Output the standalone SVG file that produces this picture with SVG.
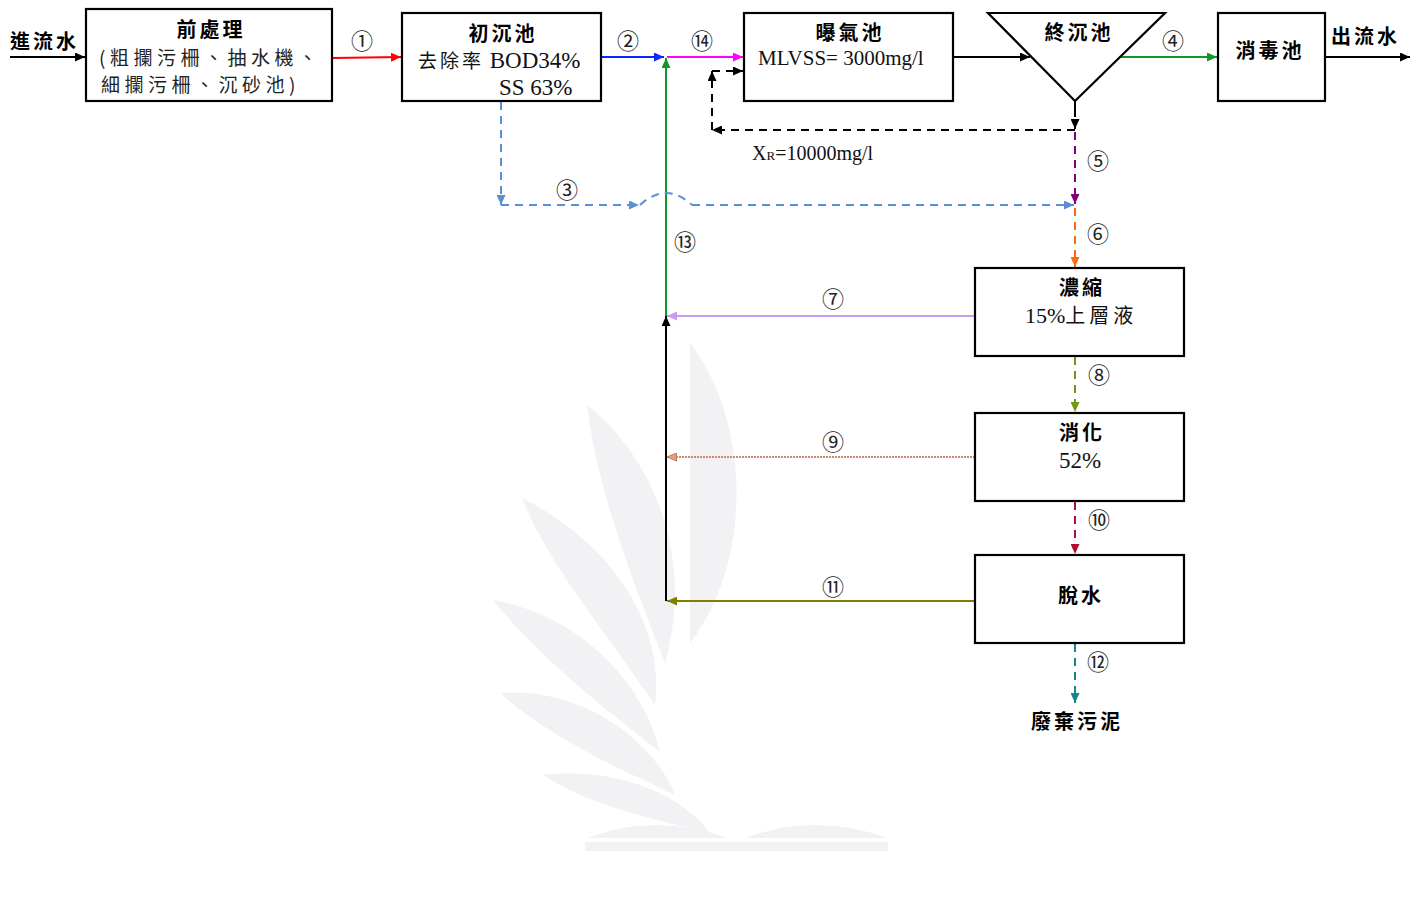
<svg xmlns="http://www.w3.org/2000/svg" width="1426" height="913" viewBox="0 0 1426 913">
<style>
.box{fill:#fff;stroke:#000;stroke-width:2.2}
.cj{font-family:"Noto Sans CJK TC","Noto Sans CJK SC",sans-serif;font-weight:bold;font-size:20px;letter-spacing:3px;fill:#000}
.cn{font-family:"Noto Sans CJK TC","Noto Sans CJK SC",sans-serif;font-size:19px;letter-spacing:4.5px;fill:#222}
.tm{font-family:"Liberation Serif","Noto Sans CJK TC",serif;font-size:23px;fill:#111}
.num{font-family:"Noto Sans CJK TC","DejaVu Sans",sans-serif;font-size:22px;fill:#222;text-anchor:middle}
.ln{fill:none;stroke-width:2}
.d{stroke-dasharray:8 6}
.wm{fill:#f2f2f5}
</style>
<defs>
<marker id="aK" markerUnits="userSpaceOnUse" markerWidth="11" markerHeight="9" refX="10" refY="4.5" orient="auto"><path d="M0,0 L10,4.5 L0,9 Z" fill="#000"/></marker>
<marker id="aR" markerUnits="userSpaceOnUse" markerWidth="11" markerHeight="9" refX="10" refY="4.5" orient="auto"><path d="M0,0 L10,4.5 L0,9 Z" fill="#ff0000"/></marker>
<marker id="aB" markerUnits="userSpaceOnUse" markerWidth="11" markerHeight="9" refX="10" refY="4.5" orient="auto"><path d="M0,0 L10,4.5 L0,9 Z" fill="#0a28ff"/></marker>
<marker id="aM" markerUnits="userSpaceOnUse" markerWidth="11" markerHeight="9" refX="10" refY="4.5" orient="auto"><path d="M0,0 L10,4.5 L0,9 Z" fill="#ff00ff"/></marker>
<marker id="aG" markerUnits="userSpaceOnUse" markerWidth="11" markerHeight="9" refX="10" refY="4.5" orient="auto"><path d="M0,0 L10,4.5 L0,9 Z" fill="#12962a"/></marker>
<marker id="aLB" markerUnits="userSpaceOnUse" markerWidth="11" markerHeight="9" refX="10" refY="4.5" orient="auto"><path d="M0,0 L10,4.5 L0,9 Z" fill="#5a8fd8"/></marker>
<marker id="aP" markerUnits="userSpaceOnUse" markerWidth="11" markerHeight="9" refX="10" refY="4.5" orient="auto"><path d="M0,0 L10,4.5 L0,9 Z" fill="#800080"/></marker>
<marker id="aO" markerUnits="userSpaceOnUse" markerWidth="11" markerHeight="9" refX="10" refY="4.5" orient="auto"><path d="M0,0 L10,4.5 L0,9 Z" fill="#ff6a10"/></marker>
<marker id="aL" markerUnits="userSpaceOnUse" markerWidth="11" markerHeight="9" refX="10" refY="4.5" orient="auto"><path d="M0,0 L10,4.5 L0,9 Z" fill="#c49cf2"/></marker>
<marker id="aYG" markerUnits="userSpaceOnUse" markerWidth="11" markerHeight="9" refX="10" refY="4.5" orient="auto"><path d="M0,0 L10,4.5 L0,9 Z" fill="#6b9a12"/></marker>
<marker id="aBr" markerUnits="userSpaceOnUse" markerWidth="11" markerHeight="9" refX="10" refY="4.5" orient="auto"><path d="M0.5,0.5 L10,4.5 L0.5,8.5 Z" fill="#e0a080" stroke="#c8785a" stroke-width="1"/></marker>
<marker id="aC" markerUnits="userSpaceOnUse" markerWidth="11" markerHeight="9" refX="10" refY="4.5" orient="auto"><path d="M0,0 L10,4.5 L0,9 Z" fill="#b0102e"/></marker>
<marker id="aOl" markerUnits="userSpaceOnUse" markerWidth="11" markerHeight="9" refX="10" refY="4.5" orient="auto"><path d="M0,0 L10,4.5 L0,9 Z" fill="#808000"/></marker>
<marker id="aT" markerUnits="userSpaceOnUse" markerWidth="11" markerHeight="9" refX="10" refY="4.5" orient="auto"><path d="M0,0 L10,4.5 L0,9 Z" fill="#12888a"/></marker>
</defs>
<rect width="1426" height="913" fill="#fff"/>
<g id="watermark">
<path class="wm" d="M690,343 C750,420 754,560 690,643 Z"/>
<path class="wm" d="M587,405 C656,460 694,560 665,663 C624,560 596,480 587,405 Z"/>
<path class="wm" d="M522,498 C606,540 666,620 655,705 C598,622 546,560 522,498 Z"/>
<path class="wm" d="M493,600 C586,616 646,690 660,752 C598,704 536,654 493,600 Z"/>
<path class="wm" d="M500,693 C586,686 656,745 675,795 C608,764 546,734 500,693 Z"/>
<path class="wm" d="M543,775 C626,766 686,800 710,833 C648,818 586,804 543,775 Z"/>
<path class="wm" d="M587,838 Q655,812 728,838 Z"/>
<path class="wm" d="M745,838 Q815,812 888,838 Z"/>
<rect class="wm" x="585" y="842" width="303" height="9"/>
</g>
<g id="connectors">
<line class="ln" x1="10" y1="57" x2="85" y2="57" stroke="#000" marker-end="url(#aK)"/>
<line class="ln" x1="333" y1="58" x2="401" y2="57" stroke="#ff0000" marker-end="url(#aR)"/>
<line class="ln" x1="602" y1="57" x2="664" y2="57" stroke="#0a28ff" marker-end="url(#aB)"/>
<line class="ln" x1="667" y1="57" x2="743" y2="57" stroke="#ff00ff" marker-end="url(#aM)"/>
<line class="ln" x1="666" y1="316" x2="666" y2="58" stroke="#12962a" marker-end="url(#aG)"/>
<line class="ln" x1="954" y1="57" x2="1030" y2="57" stroke="#000" marker-end="url(#aK)"/>
<line class="ln" x1="1121" y1="57" x2="1217" y2="57" stroke="#12962a" marker-end="url(#aG)"/>
<line class="ln" x1="1326" y1="57" x2="1410" y2="57" stroke="#000" marker-end="url(#aK)"/>
<line class="ln" x1="1075" y1="101" x2="1075" y2="109" stroke="#000"/>
<line class="ln d" x1="1075" y1="109" x2="1075" y2="129" stroke="#000" stroke-width="2.4" marker-end="url(#aK)"/>
<line class="ln d" x1="1075" y1="130" x2="712" y2="130" stroke="#000" stroke-width="2.4" marker-end="url(#aK)"/>
<line class="ln d" x1="712" y1="130" x2="712" y2="71" stroke="#000" stroke-width="2.4" marker-end="url(#aK)"/>
<line class="ln d" x1="712" y1="71" x2="743" y2="71" stroke="#000" stroke-width="2.4" marker-end="url(#aK)"/>
<line class="ln d" x1="1075" y1="132" x2="1075" y2="204" stroke="#800080" stroke-width="2.4" marker-end="url(#aP)"/>
<line class="ln d" x1="501" y1="102" x2="501" y2="205" stroke="#5a8fd8" marker-end="url(#aLB)"/>
<line class="ln d" x1="501" y1="205" x2="639" y2="205" stroke="#5a8fd8" marker-end="url(#aLB)"/>
<path class="ln d" d="M640,205 Q666,181 692,205" stroke="#5a8fd8"/>
<line class="ln d" x1="692" y1="205" x2="1074" y2="205" stroke="#5a8fd8" marker-end="url(#aLB)"/>
<line class="ln d" x1="1075" y1="208" x2="1075" y2="267" stroke="#ff6a10" stroke-width="2.4" marker-end="url(#aO)"/>
<line class="ln" x1="975" y1="316" x2="667" y2="316" stroke="#c49cf2" marker-end="url(#aL)"/>
<line class="ln" x1="666" y1="601" x2="666" y2="316" stroke="#000" marker-end="url(#aK)"/>
<line class="ln d" x1="1075" y1="357" x2="1075" y2="412" stroke="#6b9a12" stroke-width="2.4" marker-end="url(#aYG)"/>
<line class="ln" x1="975" y1="457" x2="667" y2="457" stroke="#d08a68" stroke-width="2.4" stroke-dasharray="2 1" marker-end="url(#aBr)"/>
<line class="ln d" x1="1075" y1="502" x2="1075" y2="554" stroke="#b0102e" stroke-width="2.4" marker-end="url(#aC)"/>
<line class="ln" x1="975" y1="601" x2="667" y2="601" stroke="#808000" stroke-width="2.4" marker-end="url(#aOl)"/>
<line class="ln d" x1="1075" y1="644" x2="1075" y2="703" stroke="#12888a" stroke-width="2.4" marker-end="url(#aT)"/>
</g>
<g id="labels">
<text class="num" x="362" y="49">①</text>
<text class="num" x="628" y="49">②</text>
<text class="num" x="567" y="198">③</text>
<text class="num" x="1173" y="49">④</text>
<text class="num" x="1098" y="169">⑤</text>
<text class="num" x="1098" y="242">⑥</text>
<text class="num" x="833" y="307">⑦</text>
<text class="num" x="1099" y="383">⑧</text>
<text class="num" x="833" y="450">⑨</text>
<text class="num" x="1099" y="528">⑩</text>
<text class="num" x="833" y="595">⑪</text>
<text class="num" x="1098" y="670">⑫</text>
<text class="num" x="685" y="250">⑬</text>
<text class="num" x="702" y="49">⑭</text>
<text class="tm" x="752" y="160" style="font-size:20px">X<tspan style="font-size:13px">R</tspan>=10000mg/l</text>
</g>
<g id="inflow"><text class="cj" x="10" y="49">進流水</text></g>
<g id="outflow"><text class="cj" x="1331" y="44">出流水</text></g>
<g id="pretreatment">
<rect class="box" x="86" y="9" width="246" height="92"/>
<text class="cj" x="211" y="37" text-anchor="middle">前處理</text>
<text class="cn" x="99" y="65">(粗攔污柵、抽水機、</text>
<text class="cn" x="101" y="92">細攔污柵、沉砂池)</text>
</g>
<g id="primary">
<rect class="box" x="402" y="13" width="199" height="88"/>
<text class="cj" x="503" y="41" text-anchor="middle">初沉池</text>
<text class="tm" x="418" y="68"><tspan style="font-family:'Noto Sans CJK TC',sans-serif;font-size:19px;letter-spacing:3px">去除率</tspan> BOD34%</text>
<text class="tm" x="499" y="95">SS 63%</text>
</g>
<g id="aeration">
<rect class="box" x="744" y="13" width="209" height="88"/>
<text class="cj" x="850" y="40" text-anchor="middle">曝氣池</text>
<text class="tm" x="758" y="65" style="font-size:21px">MLVSS= 3000mg/l</text>
</g>
<g id="secondary">
<polygon points="988,13 1165,13 1075,101" fill="#fff" stroke="#000" stroke-width="2.2"/>
<text class="cj" x="1079" y="40" text-anchor="middle">終沉池</text>
</g>
<g id="disinfection">
<rect class="box" x="1218" y="13" width="107" height="88"/>
<text class="cj" x="1270" y="58" text-anchor="middle">消毒池</text>
</g>
<g id="thickening">
<rect class="box" x="975" y="268" width="209" height="88"/>
<text class="cj" x="1082" y="295" text-anchor="middle">濃縮</text>
<text class="tm" x="1025" y="323" style="font-size:22px">15%<tspan style="font-family:'Noto Sans CJK TC',sans-serif;font-size:20px;letter-spacing:4px">上層液</tspan></text>
</g>
<g id="digestion">
<rect class="box" x="975" y="413" width="209" height="88"/>
<text class="cj" x="1082" y="440" text-anchor="middle">消化</text>
<text class="tm" x="1080" y="468" text-anchor="middle">52%</text>
</g>
<g id="dewatering">
<rect class="box" x="975" y="555" width="209" height="88"/>
<text class="cj" x="1081" y="603" text-anchor="middle">脫水</text>
</g>
<g id="waste"><text class="cj" x="1077" y="729" text-anchor="middle">廢棄污泥</text></g>
</svg>
